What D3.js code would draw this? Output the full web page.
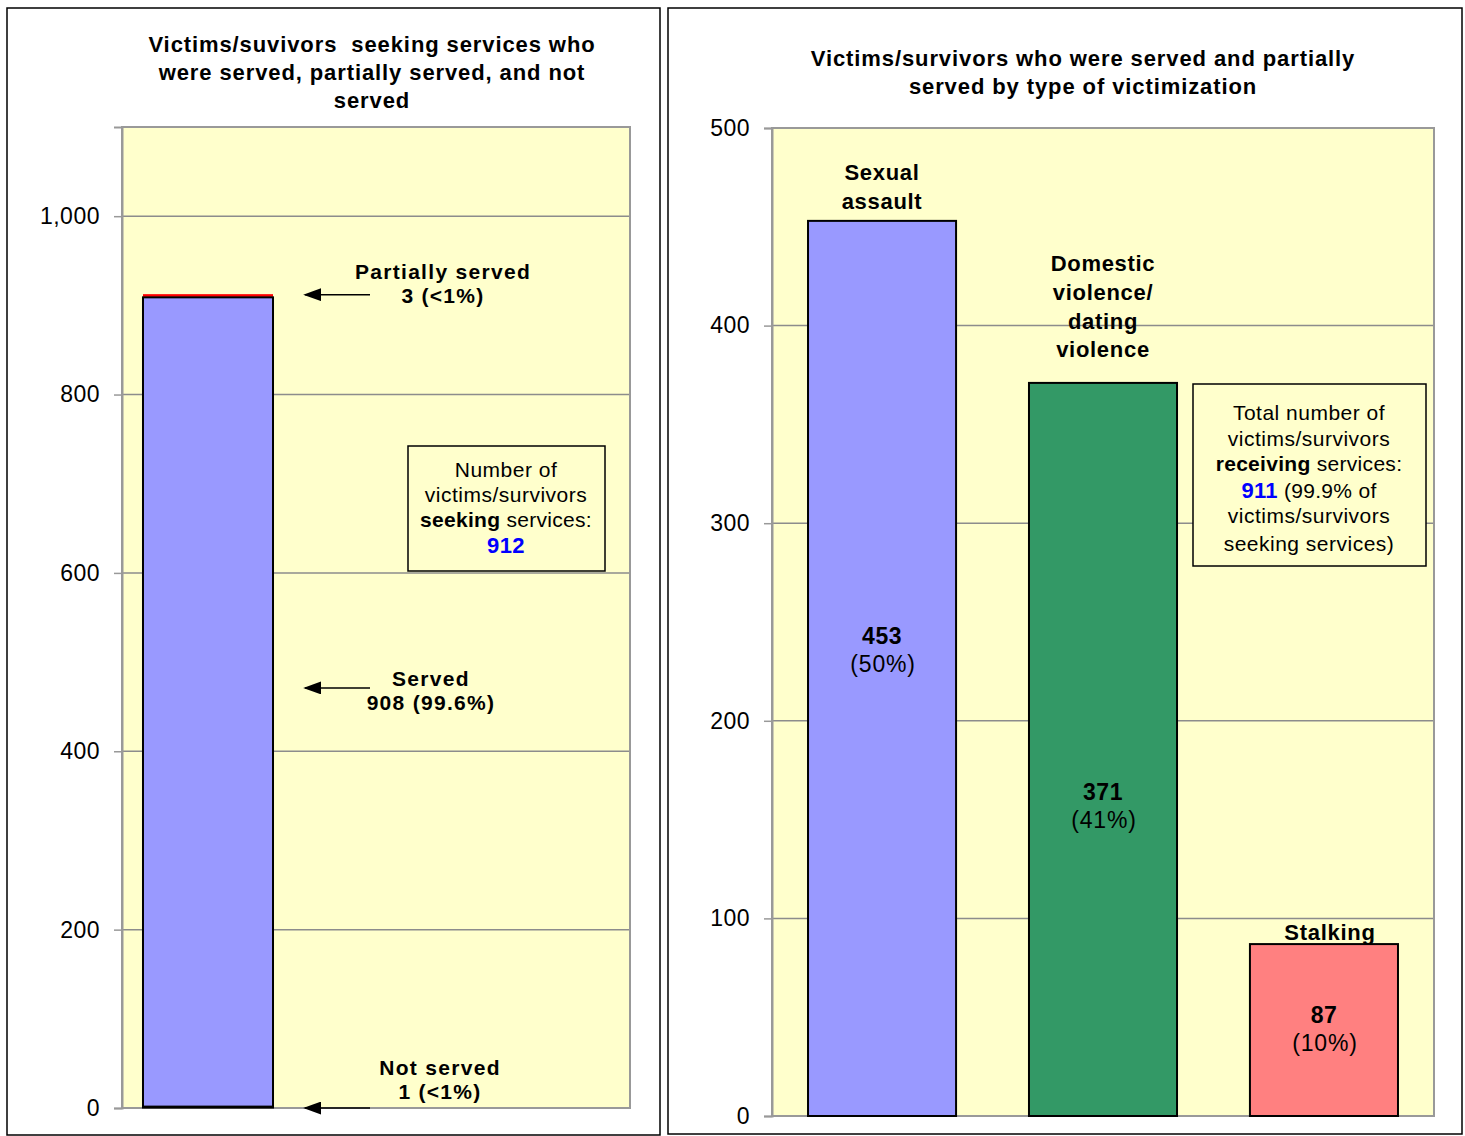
<!DOCTYPE html>
<html><head><meta charset="utf-8">
<script src="https://cdn.jsdelivr.net/npm/d3@7"></script>
<style>body{margin:0;background:#fff}svg{display:block;font-family:"Liberation Sans",Arial,sans-serif}text{white-space:pre}</style>
</head><body><svg id="c" width="1465" height="1136"></svg>
<script>
// ---- data ----
const leftTitle = ["Victims/suvivors  seeking services who","were served, partially served, and not","served"];
const leftCategory = ["Seeking services"];
const leftSeries = ["Not served","Served","Partially served"];
const leftValues = [1, 908, 3];
const leftColors = ["#000000","#9999FF","#FF0000"];
const leftLabels = [["Not served","1 (<1%)"],["Served","908 (99.6%)"],["Partially served","3 (<1%)"]];
const leftArrowAt = [0, 471, 912];
const leftTicks = [0,200,400,600,800,1000];
const leftBox = ["Number of","victims/survivors","seeking services:","912"];

const rightTitle = ["Victims/survivors who were served and partially","served by type of victimization"];
const rightCategories = [["Sexual","assault"],["Domestic","violence/","dating","violence"],["Stalking"]];
const rightValues = [453, 371, 87];
const rightPct = ["(50%)","(41%)","(10%)"];
const rightLabelAt = [243, 164, 51];
const rightCatLabelAt = [463, 388, 93];
const rightColors = ["#9999FF","#339966","#FF8080"];
const rightTicks = [0,100,200,300,400,500];
const rightBox = ["Total number of","victims/survivors","receiving services:","911 (99.9% of","victims/survivors","seeking services)"];

const svg = d3.select("#c");
const fmt = d3.format(",");

// ---- panel frames ----
svg.append("rect").attr("x",7).attr("y",8).attr("width",653).attr("height",1127).attr("fill","#fff").attr("stroke","#000").attr("stroke-width",1.5);
svg.append("rect").attr("x",668).attr("y",8).attr("width",794).attr("height",1126).attr("fill","#fff").attr("stroke","#000").attr("stroke-width",1.5);

svg.append("defs").append("marker").attr("id","ah").attr("viewBox","0 0 10 10").attr("refX",9).attr("refY",5)
  .attr("markerWidth",18).attr("markerHeight",13).attr("markerUnits","userSpaceOnUse").attr("orient","auto")
  .attr("preserveAspectRatio","none")
  .append("path").attr("d","M0,0 L10,5 L0,10 z").attr("fill","#000");

function txt(g, x, y, t, size, bold, ls){
  return g.append("text").attr("x",x).attr("y",y).attr("text-anchor","middle").attr("font-size",size)
    .attr("font-weight",bold?"bold":null).attr("letter-spacing",ls||0).text(t);
}

// ================= LEFT CHART =================
{
  const L = {l:122, r:630, t:127, b:1108};
  const y = d3.scaleLinear().domain([0,1100]).range([L.b, L.t]);
  const x = d3.scaleBand().domain(leftCategory).range([L.l, L.l+172]).padding(0.139);
  const g = svg.append("g");
  g.append("rect").attr("x",L.l).attr("y",L.t).attr("width",L.r-L.l).attr("height",L.b-L.t).attr("fill","#FFFFCC");
  g.selectAll(".grid").data(leftTicks.filter(d=>d>0)).join("line")
    .attr("x1",L.l).attr("x2",L.r).attr("y1",d=>y(d)).attr("y2",d=>y(d)).attr("stroke","#8c8c8c").attr("stroke-width",1.5);
  g.append("rect").attr("x",L.l).attr("y",L.t).attr("width",L.r-L.l).attr("height",L.b-L.t).attr("fill","none").attr("stroke","#999").attr("stroke-width",2);
  const axis = d3.axisLeft(y).tickValues(leftTicks).tickFormat(fmt).tickSize(8).tickPadding(14);
  const ag = g.append("g").attr("transform",`translate(${L.l},0)`).call(axis);
  ag.select(".domain").attr("stroke","#999").attr("stroke-width",2);
  ag.selectAll(".tick line").attr("stroke","#999").attr("stroke-width",1.5);
  ag.selectAll(".tick text").attr("font-size",23).attr("letter-spacing",0.5).attr("fill","#000").attr("font-family","Liberation Sans, Arial");

  const row = {cat: leftCategory[0]};
  leftSeries.forEach((s,i)=>row[s]=leftValues[i]);
  const stack = d3.stack().keys(leftSeries)([row]);
  const bx0 = x(leftCategory[0]), bw = x.bandwidth();
  // partially served (top, red)
  g.append("rect").attr("x",bx0).attr("width",bw).attr("y",y(stack[2][0][1])-0.5).attr("height",y(stack[2][0][0])-y(stack[2][0][1]))
    .attr("fill",leftColors[2]);
  // served
  g.append("rect").attr("x",bx0).attr("width",bw).attr("y",y(stack[1][0][1])).attr("height",y(stack[1][0][0])-y(stack[1][0][1]))
    .attr("fill",leftColors[1]).attr("stroke","#000").attr("stroke-width",2);
  // not served (bottom)
  g.append("rect").attr("x",bx0-1).attr("width",bw+2).attr("y",y(stack[0][0][1])-1.5).attr("height",y(stack[0][0][0])-y(stack[0][0][1])+2)
    .attr("fill",leftColors[0]);

  const lblX = [440, 431, 443];
  const lblY = [[1075,1099],[686,710],[279,303]];
  leftLabels.forEach((lab,i)=>{
    g.append("line").attr("x1",370).attr("x2",305).attr("y1",y(leftArrowAt[i])).attr("y2",y(leftArrowAt[i]))
      .attr("stroke","#000").attr("stroke-width",1.5).attr("marker-end","url(#ah)");
    lab.forEach((t,j)=>txt(g, lblX[i], lblY[i][j], t, 21, true, 1.3));
  });

  // box
  g.append("rect").attr("x",408).attr("y",446).attr("width",197).attr("height",125).attr("fill","#FFFFCC").attr("stroke","#000").attr("stroke-width",1.5);
  const bx = 506;
  txt(g,bx,477,leftBox[0],21,false,0.5);
  txt(g,bx,502,leftBox[1],21,false,0.5);
  const t3 = g.append("text").attr("x",bx).attr("y",527).attr("text-anchor","middle").attr("font-size",21).attr("letter-spacing",0.3);
  t3.append("tspan").attr("font-weight","bold").text("seeking");
  t3.append("tspan").text(" services:");
  txt(g,bx,553,leftBox[3],22,true,0.5).attr("fill","#0000FF");

  leftTitle.forEach((t,i)=>txt(g,372,52+i*28,t,22,true,0.9));
}

// ================= RIGHT CHART =================
{
  const R = {l:772, r:1434, t:128, b:1116};
  const y = d3.scaleLinear().domain([0,500]).range([R.b, R.t]);
  const x = d3.scaleBand().domain(rightCategories.map((d,i)=>i)).range([R.l, R.r]).paddingInner(0.33).paddingOuter(0.163);
  const g = svg.append("g");
  g.append("rect").attr("x",R.l).attr("y",R.t).attr("width",R.r-R.l).attr("height",R.b-R.t).attr("fill","#FFFFCC");
  g.selectAll(".grid").data(rightTicks.filter(d=>d>0&&d<500)).join("line")
    .attr("x1",R.l).attr("x2",R.r).attr("y1",d=>y(d)).attr("y2",d=>y(d)).attr("stroke","#8c8c8c").attr("stroke-width",1.5);
  g.append("rect").attr("x",R.l).attr("y",R.t).attr("width",R.r-R.l).attr("height",R.b-R.t).attr("fill","none").attr("stroke","#999").attr("stroke-width",2);
  const axis = d3.axisLeft(y).tickValues(rightTicks).tickSize(8).tickPadding(14);
  const ag = g.append("g").attr("transform",`translate(${R.l},0)`).call(axis);
  ag.select(".domain").attr("stroke","#999").attr("stroke-width",2);
  ag.selectAll(".tick line").attr("stroke","#999").attr("stroke-width",1.5);
  ag.selectAll(".tick text").attr("font-size",23).attr("letter-spacing",0.5).attr("fill","#000").attr("font-family","Liberation Sans, Arial");

  g.selectAll(".bar").data(rightValues).join("rect")
    .attr("x",(d,i)=>x(i)).attr("width",x.bandwidth())
    .attr("y",d=>y(d)).attr("height",d=>y(0)-y(d))
    .attr("fill",(d,i)=>rightColors[i]).attr("stroke","#000").attr("stroke-width",2);

  rightValues.forEach((v,i)=>{
    const cx = x(i)+x.bandwidth()/2;
    txt(g,cx,y(rightLabelAt[i])+8,String(v),23,true,0.5);
    txt(g,cx+1,y(rightLabelAt[i])+36,rightPct[i],23,false,0.8);
    const lines = rightCategories[i];
    const n = lines.length;
    lines.forEach((t,j)=>{
      txt(g,cx + (i===2?6:0), y(rightCatLabelAt[i])+8-(n-1-j)*28.7, t, 22, true, 0.7);
    });
  });

  // box
  g.append("rect").attr("x",1193).attr("y",384).attr("width",233).attr("height",182).attr("fill","#FFFFCC").attr("stroke","#000").attr("stroke-width",1.5);
  const bx = 1309;
  const ys = [420,446,471,498,523,551];
  [0,1].forEach(i=>txt(g,bx,ys[i],rightBox[i],21,false,0.5));
  const t3 = g.append("text").attr("x",bx).attr("y",ys[2]).attr("text-anchor","middle").attr("font-size",21).attr("letter-spacing",0.3);
  t3.append("tspan").attr("font-weight","bold").text("receiving");
  t3.append("tspan").text(" services:");
  const t4 = g.append("text").attr("x",bx).attr("y",ys[3]).attr("text-anchor","middle").attr("font-size",21).attr("letter-spacing",0.3);
  t4.append("tspan").attr("font-weight","bold").attr("fill","#0000FF").attr("font-size",22).text("911");
  t4.append("tspan").text(" (99.9% of");
  [4,5].forEach(i=>txt(g,bx,ys[i],rightBox[i],21,false,0.5));

  rightTitle.forEach((t,i)=>txt(g,1083,66+i*28,t,22,true,0.9));
}
</script></body></html>
